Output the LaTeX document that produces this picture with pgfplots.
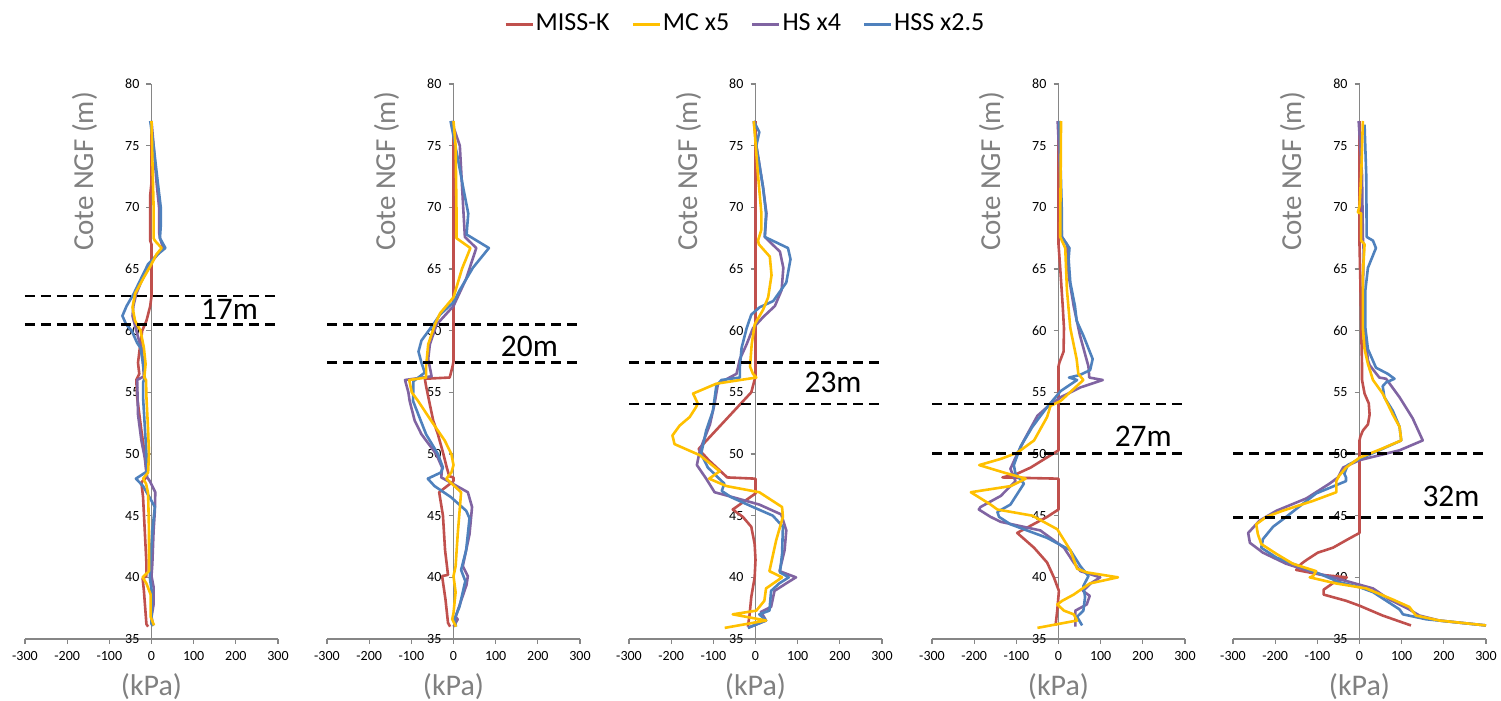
\documentclass[border=0pt]{standalone}
\usepackage{pgfplots}
\pgfplotsset{compat=1.18}
\usepackage{fontspec}
\setmainfont{Carlito}
\definecolor{cmiss}{HTML}{C0504D}
\definecolor{cmc}{HTML}{FFC000}
\definecolor{chs}{HTML}{8064A2}
\definecolor{chss}{HTML}{4F81BD}
\definecolor{labelgray}{HTML}{808080}
\definecolor{axisgray}{HTML}{868686}
\pgfplotsset{
  panel/.style={
    scale only axis, width=126.5pt, height=277.5pt,
    xmin=-300, xmax=300, ymin=35, ymax=80,
    axis x line=bottom, axis y line=center,
    axis line style={-, draw=axisgray, line width=0.6pt},
    xtick={-300,-200,...,300}, ytick={35,40,...,80},
    tick align=outside, major tick length=2.5pt,
    tick style={axisgray, line width=0.6pt},
    ticklabel style={font=\fontsize{7}{8}\selectfont, text=black},
    /pgf/number format/assume math mode=true,
    hide obscured x ticks=false, hide obscured y ticks=false,
    xlabel={(kPa)}, ylabel={Cote NGF (m)},
    every axis x label/.style={at={(axis cs:0,31.1)}, anchor=center, font=\fontsize{15}{18}\selectfont, text=labelgray},
    every axis y label/.style={at={(axis cs:-159,72.9)}, anchor=center, rotate=90, font=\fontsize{14.5}{17}\selectfont, text=labelgray},
    clip=false,
  },
  smiss/.style={cmiss, line width=1.3pt, line join=round, forget plot},
  smc/.style={cmc, line width=1.3pt, line join=round, forget plot},
  shs/.style={chs, line width=1.3pt, line join=round, forget plot},
  shss/.style={chss, line width=1.3pt, line join=round, forget plot},
  sdash/.style={black, line width=1.25pt, dash pattern=on 5pt off 3pt, forget plot},
}
\newcommand{\dlab}{\fontsize{15.7}{18}\selectfont}
\begin{document}
\begin{tikzpicture}
\path[use as bounding box] (0,0) rectangle (750.5pt,350.5pt);
% ---------------- Panel 1 (17m)
\begin{axis}[panel, at={(12.5pt,31pt)}, anchor=south west,
  legend style={at={(2.846,1.108)}, anchor=center, draw=none, legend columns=4,
    font=\fontsize{13}{15}\selectfont, inner sep=0pt,
    nodes={inner sep=0.8pt}, /tikz/column sep=0pt},
  legend image code/.code={\draw[#1] (0pt,0pt) -- (13.5pt,0pt);}]
\addlegendimage{cmiss, line width=1.5pt}\addlegendentry{MISS-K\hspace*{10pt}}
\addlegendimage{cmc, line width=1.5pt}\addlegendentry{MC x5\hspace*{10pt}}
\addlegendimage{chs, line width=1.5pt}\addlegendentry{HS x4\hspace*{10pt}}
\addlegendimage{chss, line width=1.5pt}\addlegendentry{HSS x2.5}
\addplot[smiss] coordinates {(0,77) (0,72) (-3,71) (-3,67.3) (0,67) (0,62.8) (-3,62) (-12,60.8) (-22,60) (-28,58.5) (-32,57.4) (-29,56.5) (-36,56) (-34,54.6) (-24,51.9) (-16,50) (-12,48.6) (-12,48.1) (-24,47.7) (-20,46.5) (-16,43.8) (-12,41.1) (-12,40.1) (-21,39.9) (-18,38.9) (-12,36.2) (-8,36)};
\addplot[shs] coordinates {(0,77) (5,75) (12,72) (18,70) (18,68) (20,67.5) (28,66.7) (15,66.2) (-4,65.4) (-24,64) (-36,63) (-43,62) (-45,61.2) (-36,60) (-28,59) (-23,58.6) (-20,57.3) (-18,56.3) (-34,56) (-32,53.2) (-24,51.1) (-16,49.7) (-12,48.5) (-10,48.1) (-4,47.8) (9,46.9) (8,45.4) (5,43.8) (2,41.1) (0,40.1) (5,39.2) (5,37.8) (0,36.8) (4,36.1)};
\addplot[shss] coordinates {(-3,77) (5,75) (15,72) (22,70) (22,68.5) (20,67.5) (33,66.7) (15,66.2) (-8,65.4) (-28,64) (-42,63) (-59,62) (-69,61.2) (-60,60.5) (-47,60) (-34,59) (-26,58.6) (-20,57.3) (-16,56.2) (-20,55.8) (-20,54.6) (-12,50) (-10,48.6) (-37,48) (-20,47.4) (0,46.2) (8,45.7) (2,43.8) (-3,41.1) (-4,40) (0,39) (0,36.2) (5,36.1)};
\addplot[smc] coordinates {(0,77) (2,74) (5,70) (5,67.5) (8,67.3) (24,66.7) (12,66.2) (0,65.4) (-20,64.2) (-39,63) (-45,61.9) (-39,60.8) (-26,60) (-18,58.6) (-14,57.3) (-17,56.2) (-13,56) (-12,54.6) (-8,51.9) (-6,50) (-8,48.5) (-20,48) (-13,47.6) (-8,46.8) (-6,43.8) (-6,40.5) (-21,40) (-12,39.5) (-2,38.6) (-2,36.8) (6,36.1)};
\addplot[sdash] coordinates {(-300,62.8) (300,62.8)};
\addplot[sdash] coordinates {(-300,60.5) (300,60.5)};
\node[font=\dlab] at (axis cs:185,61.7) {17m};
\end{axis}
% ---------------- Panel 2 (20m)
\begin{axis}[panel, at={(163.5pt,31pt)}, anchor=south west]
\addplot[smiss] coordinates {(0,77) (0,57.5) (-3,57) (-9,56.2) (-68,56.1) (-65,55.5) (-56,54) (-48,52.7) (-37,51.6) (-24,50) (-16,48.9) (-10,48.2) (0,48.1) (0,47.8) (-34,46.9) (-25,45) (-20,42.2) (-13,40.2) (-27,40.1) (-19,38.2) (-13,36.3) (-8,36)};
\addplot[shs] coordinates {(-5,77) (15,75) (23,70) (27,67.6) (54,66.7) (30,64.2) (0,62) (-16,61.4) (-40,60.5) (-56,58.9) (-60,57.7) (-52,56.3) (-115,56) (-107,55) (-104,54.3) (-92,52.7) (-76,51.6) (-41,50) (-27,48.9) (-29,48.1) (-13,47.8) (34,46.9) (44,45.7) (38,43.5) (22,40.9) (34,40.1) (31,39.4) (13,37.6) (5,36.8) (10,36.6) (0,36)};
\addplot[shss] coordinates {(-7,77) (10,74) (23,71.6) (35,69.5) (31,67.8) (84,66.7) (46,65.1) (15,63.3) (0,62.3) (-32,61.3) (-48,60.5) (-76,59.2) (-83,58.3) (-76,57.4) (-68,56.6) (-95,55.9) (-96,54.3) (-65,51.6) (-37,50) (-25,48.9) (-30,48.5) (-61,48) (-45,47.4) (-6,46.5) (30,45.4) (38,44.8) (30,42.2) (18,40.6) (28,39.7) (14,37.6) (2,36.6) (6,36)};
\addplot[smc] coordinates {(0,77) (5,75) (7,70) (7,67.5) (40,66.7) (20,65) (0,62.7) (-32,61.4) (-44,60.5) (-60,58.9) (-65,57.1) (-65,56.2) (-105,56) (-99,55) (-84,54.3) (-53,52.7) (-21,51.1) (-5,50) (0,49.1) (-5,48.5) (-17,48) (18,46.9) (10,43.5) (5,40.9) (0,40.1) (5,38.8) (0,37.1) (-3,36.6) (6,36)};
\addplot[sdash] coordinates {(-300,60.5) (300,60.5)};
\addplot[sdash] coordinates {(-300,57.4) (300,57.4)};
\node[font=\dlab] at (axis cs:180,58.7) {20m};
\end{axis}
% ---------------- Panel 3 (23m)
\begin{axis}[panel, at={(314.5pt,31pt)}, anchor=south west]
\addplot[smiss] coordinates {(0,77) (0,56.3) (-10,55) (-135,50.4) (-111,49.5) (-67,48.1) (0,48) (0,46.8) (-54,45.5) (-30,44.9) (-10,44.1) (-2,42.7) (0,41.4) (-2,40) (-10,38.4) (-14,37) (-18,36)};
\addplot[shs] coordinates {(-4,77) (2,75) (18,71.6) (26,69.5) (22,67.6) (58,66.4) (66,65.1) (62,63.3) (46,62) (18,61.1) (-6,60.2) (-21,58.9) (-37,57.7) (-45,56.5) (-89,55.7) (-97,54.1) (-108,52.4) (-132,50.3) (-139,49.1) (-117,48) (-97,46.9) (-54,46.5) (9,45.9) (61,45.1) (73,43.8) (69,42.2) (57,40.5) (96,40) (77,39.6) (45,38.9) (37,37.6) (13,37.2) (25,36.5) (-18,35.9)};
\addplot[shss] coordinates {(-4,77) (9,76.1) (2,75) (18,71.6) (25,69.5) (22,67.6) (77,66.7) (83,65.8) (73,63.9) (42,62.4) (10,61.9) (-10,61.3) (-21,60.2) (-33,58.6) (-37,57.1) (-37,56.2) (-81,56) (-93,55.5) (-101,53.5) (-117,51.9) (-129,50) (-113,48.9) (-74,47.6) (-80,47) (-58,46.5) (-6,45.7) (41,45) (65,44.1) (63,41.9) (58,40.4) (79,40) (56,39.5) (37,38.9) (33,37.3) (9,37) (25,36.5) (-18,35.9)};
\addplot[smc] coordinates {(-4,77) (6,72.6) (14,69.5) (14,68.2) (6,67.3) (8,67) (34,66) (38,64.5) (30,62.7) (18,61.7) (-2,60.5) (-9,58.9) (-13,57.1) (-6,56.5) (2,56.2) (-93,55.7) (-148,54.9) (-137,54.1) (-141,53.8) (-156,53) (-180,52.3) (-197,51.5) (-192,50.8) (-132,49.9) (-85,48.6) (-110,48) (-69,47.4) (9,46.9) (63,45.7) (65,44.9) (49,43) (33,40.5) (63,40) (25,39.1) (21,38.1) (2,37.3) (-54,37) (25,36.5) (-73,35.9)};
\addplot[sdash] coordinates {(-300,57.4) (300,57.4)};
\addplot[sdash] coordinates {(-300,54.05) (300,54.05)};
\node[font=\dlab] at (axis cs:184,55.8) {23m};
\end{axis}
% ---------------- Panel 4 (27m)
\begin{axis}[panel, at={(466pt,31pt)}, anchor=south west]
\addplot[smiss] coordinates {(0,77) (0,67) (4,65.1) (10,62) (13,60.2) (12,58.3) (2,57.4) (0,57.1) (0,50.3) (-66,48.9) (-98,48.4) (-133,48.1) (0,48) (0,45.5) (-27,44.9) (-98,43.6) (-58,42.4) (-27,41.2) (-11,40) (1,38.9) (-3,37.3) (-7,36.1)};
\addplot[shs] coordinates {(-2,77) (4,72.6) (8,67.6) (20,67) (24,64.5) (36,62) (51,59.6) (71,57.1) (73,56.2) (105,56) (52,55.4) (5,54.6) (-27,53.8) (-50,53.1) (-82,51.1) (-102,49.7) (-114,48.8) (-102,47.8) (-137,46.6) (-185,45.7) (-189,45.5) (-161,44.9) (-137,44.5) (-43,43.8) (13,42.4) (36,41.2) (52,40.5) (99,40) (76,39.5) (58,38.9) (74,38.5) (67,37.8) (40,37.3) (40,36)};
\addplot[shss] coordinates {(2,77) (8,69.5) (8,67.6) (26,66.7) (24,65.8) (28,63.9) (39,62) (43,60.8) (59,59.6) (81,57.7) (75,56.8) (50,56.4) (25,56.2) (44,56) (5,55.1) (-27,53.8) (-62,52.2) (-90,50.6) (-106,49.1) (-102,48.4) (-82,47.6) (-114,45.9) (-145,45.3) (-141,44.9) (-114,44.3) (-27,43.2) (28,42.2) (52,40.9) (71,40.1) (59,39.3) (63,38.4) (59,37.3) (44,36.8) (56,36.1)};
\addplot[smc] coordinates {(6,77) (4,67.6) (8,67.3) (16,66.7) (20,63.3) (28,60.2) (43,57.7) (47,56.5) (59,56) (5,54.3) (-19,53.9) (-27,53) (-58,51.1) (-98,50.1) (-137,49.6) (-188,49.1) (-130,48.5) (-78,48) (-113,47.4) (-208,46.9) (-161,45.9) (-145,45.5) (-62,45) (-3,43.9) (28,42.2) (44,40.7) (67,40.4) (141,40) (74,39.5) (36,38.6) (9,38.1) (-3,37.8) (13,37.3) (36,37) (44,36.5) (-50,35.9)};
\addplot[sdash] coordinates {(-300,54.05) (300,54.05)};
\addplot[sdash] coordinates {(-300,50.05) (300,50.05)};
\node[font=\dlab] at (axis cs:201,51.4) {27m};
\end{axis}
% ---------------- Panel 5 (32m)
\begin{axis}[panel, at={(616.5pt,31pt)}, anchor=south west]
\addplot[smiss] coordinates {(0,77) (0,67) (2,64) (4,60.2) (6,57.1) (6,56) (12,54.9) (22,54.1) (24,53.2) (20,52.4) (8,51.9) (2,51.4) (0,51.1) (0,43.6) (-32,43) (-63,42.4) (-99,42) (-126,41.4) (-138,41.1) (-150,40.6) (-90,40.2) (-30,40) (-60,39.6) (-85,39) (-85,38.6) (-32,38.1) (0,37.7) (55,36.9) (122,36.1)};
\addplot[shs] coordinates {(-2,77) (6,72.6) (8,67.6) (10,66.4) (8,63.3) (12,60.2) (20,57.6) (24,57.2) (47,56.2) (63,56.1) (95,54.6) (126,52.9) (150,51.1) (95,50.3) (0,49.5) (-39,48.9) (-51,48.1) (-71,47.6) (-126,46.4) (-197,45.4) (-237,44.6) (-264,43.6) (-260,42.8) (-229,42) (-174,41.1) (-110,40.4) (-63,40) (32,39.1) (71,38.2) (118,37.4) (142,36.9) (189,36.5) (300,36.1)};
\addplot[shss] coordinates {(12,76.7) (16,72.6) (17,67.6) (32,67.3) (39,66.7) (20,65.1) (14,63.3) (14,60.2) (20,58.5) (39,57) (67,56.5) (83,56.1) (63,55.8) (55,55.5) (59,54.6) (79,53.5) (95,52.2) (99,51.1) (47,50.3) (0,49.6) (-28,49.1) (-36,48.4) (-32,48.1) (-32,47.8) (-103,46.8) (-174,44.9) (-205,44.1) (-229,43.1) (-233,42.4) (-197,41.6) (-158,41.1) (-103,40.4) (-47,39.6) (0,39.2) (32,38.8) (95,37.4) (103,37) (158,36.6) (300,36.1)};
\addplot[smc] coordinates {(8,77) (4,72.6) (0,70.1) (-4,69.6) (4,69.5) (4,67.3) (12,67) (8,64.5) (8,60.2) (12,58.5) (20,57.3) (32,56) (55,54.9) (79,53.2) (95,52.2) (99,51.1) (51,50.4) (0,49.7) (-32,48.9) (-49,48.2) (-55,47.8) (-55,46.9) (-110,46.2) (-182,45.4) (-221,44.9) (-245,44.3) (-241,43.5) (-233,42.7) (-197,41.9) (-158,41.1) (-103,40.5) (-110,40.1) (-118,40) (-55,39.5) (16,39.1) (79,38.2) (118,37.6) (134,36.9) (189,36.5) (300,36.1)};
\addplot[sdash] coordinates {(-300,50.05) (300,50.05)};
\addplot[sdash] coordinates {(-300,44.85) (300,44.85)};
\node[font=\dlab] at (axis cs:217,46.55) {32m};
\end{axis}
\end{tikzpicture}
\end{document}
